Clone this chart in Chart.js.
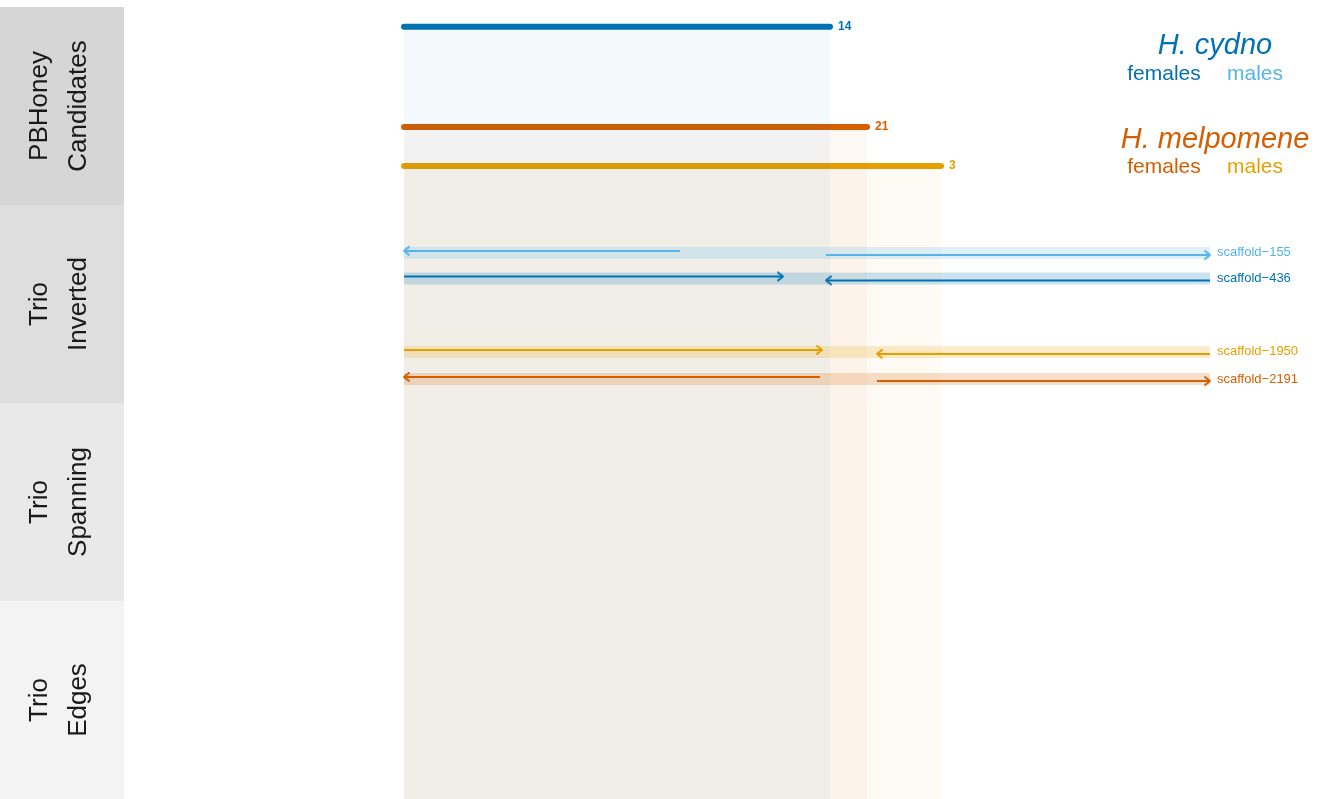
<!DOCTYPE html>
<html>
<head>
<meta charset="utf-8">
<script src="https://cdn.jsdelivr.net/npm/chart.js@4/dist/chart.umd.min.js"></script>
<style>
  html, body { margin: 0; padding: 0; background: #fff; overflow: hidden; }
  #track_chart { display: block; }
</style>
</head>
<body>
<canvas id="track_chart" width="1317" height="799"></canvas>
<script>
// facet strips
const panelLabels = [["PBHoney", "Candidates"], ["Trio", "Inverted"], ["Trio", "Spanning"], ["Trio", "Edges"]]

// PBHoney candidate regions, position in kb along the window
const candidateGroups = ["H. cydno females", "H. melpomene females", "H. melpomene males"]
const candidateStart = [280, 280, 280]
const candidateEnd = [706, 743, 817]
const candidateRow = [0.1, 0.606, 0.803]
const candidateCount = [14, 21, 3]

// trio inverted scaffolds, two aligned pieces each
const scaffoldNames = ["scaffold\u2212155", "scaffold\u2212436", "scaffold\u22121950", "scaffold\u22122191"]
const scaffoldStart = [280, 280, 280, 280]
const scaffoldEnd = [1086, 1086, 1086, 1086]
const scaffoldRow = [1.242, 1.371, 1.742, 1.879]
const pieceAFrom = [556, 280, 280, 696]
const pieceATo = [280, 659, 698, 280]
const pieceBFrom = [702, 1086, 1086, 753]
const pieceBTo = [1086, 702, 753, 1086]

// styles
const stripFills = ["#d6d6d6", "#dedede", "#e9e9e9", "#f3f3f3"]
const groupColors = ["#0072B2", "#D55E00", "#E69F00"]
const scaffoldColors = ["#56B4E9", "#0072B2", "#E69F00", "#D55E00"]

const with_alpha = (hex, a) => {
    const n = parseInt(hex.slice(1), 16)
    return `rgba(${n >> 16}, ${(n >> 8) & 255}, ${n & 255}, ${a})`
}

const chevron = (color) => {
    const c = document.createElement("canvas")
    c.width = 16; c.height = 16
    const g = c.getContext("2d")
    g.strokeStyle = color
    g.lineWidth = 2
    g.lineJoin = "round"
    g.lineCap = "round"
    g.beginPath()
    g.moveTo(3, 4)
    g.lineTo(8, 8)
    g.lineTo(3, 12)
    g.stroke()
    return c
}

const datasets = []

candidateGroups.forEach((group, i) => {
    datasets.push({
        label: group,
        data: [{ x: candidateStart[i], y: candidateRow[i] }, { x: candidateEnd[i], y: candidateRow[i] }],
        borderColor: groupColors[i],
        backgroundColor: with_alpha(groupColors[i], 0.045),
        borderWidth: 6,
        borderCapStyle: "round",
        pointRadius: 0,
        fill: { value: 4 },
        order: 3
    })
})

scaffoldNames.forEach((name, i) => {
    datasets.push({
        label: name,
        data: [{ x: scaffoldStart[i], y: scaffoldRow[i] }, { x: scaffoldEnd[i], y: scaffoldRow[i] }],
        borderColor: with_alpha(scaffoldColors[i], 0.2),
        borderWidth: 12,
        borderCapStyle: "butt",
        pointRadius: 0,
        fill: false,
        order: 2
    })
    const head = chevron(scaffoldColors[i])
    const pieces = [[pieceAFrom[i], pieceATo[i], -0.01], [pieceBFrom[i], pieceBTo[i], 0.01]]
    pieces.forEach(([from, to, off]) => {
        datasets.push({
            label: name,
            data: [{ x: from, y: scaffoldRow[i] + off }, { x: to, y: scaffoldRow[i] + off }],
            borderColor: scaffoldColors[i],
            borderWidth: 2,
            borderCapStyle: "butt",
            pointRadius: [0, 4],
            pointStyle: head,
            pointRotation: to > from ? 0 : 180,
            fill: false,
            order: 1
        })
    })
})

const stripPlugin = {
    id: "strips",
    beforeDatasetsDraw(chart) {
        const { ctx, chartArea, scales: { y } } = chart
        panelLabels.forEach((lines, i) => {
            const top = y.getPixelForValue(i)
            const bottom = y.getPixelForValue(i + 1)
            ctx.fillStyle = stripFills[i]
            ctx.fillRect(0, top, chartArea.left, bottom - top)
            ctx.save()
            ctx.translate(chartArea.left / 2, (top + bottom) / 2)
            ctx.rotate(-Math.PI / 2)
            ctx.fillStyle = "#1a1a1a"
            ctx.font = '26px "Liberation Sans"'
            ctx.textAlign = "center"
            ctx.textBaseline = "alphabetic"
            ctx.fillText(lines[0], 0, -15)
            ctx.fillText(lines[1], 0, 24)
            ctx.restore()
        })
    }
}

const textPlugin = {
    id: "texts",
    afterDatasetsDraw(chart) {
        const { ctx, scales: { x, y } } = chart
        ctx.save()
        ctx.textBaseline = "middle"
        ctx.textAlign = "left"
        ctx.font = 'bold 12px "Liberation Sans"'
        candidateCount.forEach((n, i) => {
            ctx.fillStyle = groupColors[i]
            ctx.fillText(String(n), x.getPixelForValue(candidateEnd[i]) + 8, y.getPixelForValue(candidateRow[i]))
        })
        ctx.font = '13px "Liberation Sans"'
        scaffoldNames.forEach((name, i) => {
            ctx.fillStyle = scaffoldColors[i]
            ctx.fillText(name, x.getPixelForValue(scaffoldEnd[i]) + 7, y.getPixelForValue(scaffoldRow[i]))
        })
        // species key
        ctx.textAlign = "center"
        ctx.font = 'italic 29px "Liberation Sans"'
        ctx.fillStyle = "#0072B2"
        ctx.fillText("H. cydno", 1215, 46)
        ctx.fillStyle = "#D55E00"
        ctx.fillText("H. melpomene", 1215, 140)
        ctx.font = '21px "Liberation Sans"'
        ctx.fillStyle = "#0072B2"
        ctx.fillText("females", 1164, 74)
        ctx.fillStyle = "#56B4E9"
        ctx.fillText("males", 1255, 74)
        ctx.fillStyle = "#D55E00"
        ctx.fillText("females", 1164, 167)
        ctx.fillStyle = "#E69F00"
        ctx.fillText("males", 1255, 167)
        ctx.restore()
    }
}

const track_config = {
    type: "line",
    data: { datasets: datasets },
    options: {
        responsive: false,
        animation: false,
        events: [],
        layout: { autoPadding: false, padding: { left: 124, top: 7, right: 0, bottom: 0 } },
        plugins: {
            legend: { display: false },
            tooltip: { enabled: false }
        },
        scales: {
            x: { type: "linear", min: 0, max: 1193, display: false },
            y: { type: "linear", min: 0, max: 4, reverse: true, display: false }
        }
    },
    plugins: [stripPlugin, textPlugin]
}

var ctx_track = document.getElementById("track_chart")
var track_chart = new Chart(ctx_track, track_config)
</script>
</body>
</html>
